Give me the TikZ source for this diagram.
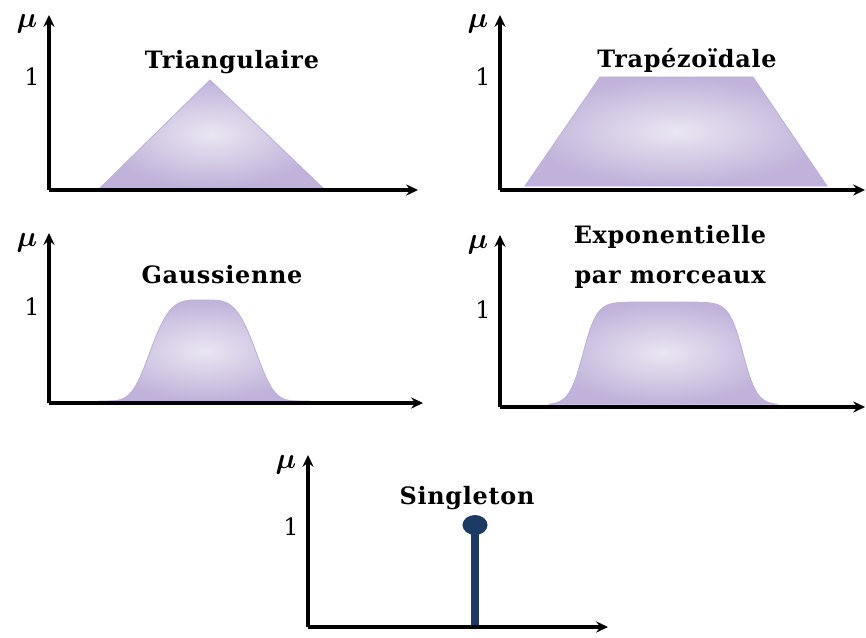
\documentclass[tikz,border=0pt]{standalone}
\usepackage{fontspec}
\setmainfont{DejaVu Serif}
\usetikzlibrary{arrows.meta,shapes.geometric}
\definecolor{lavclair}{RGB}{234,230,242}
\definecolor{lavfonce}{RGB}{192,178,218}
\definecolor{lavbord}{RGB}{190,176,216}
\definecolor{marine}{RGB}{28,58,100}
\begin{document}
\begin{tikzpicture}[x=0.025cm, y=-0.025cm,
  >={Stealth[length=8.5pt,width=8pt,inset=3pt]},
  axe/.style={line width=2.4pt, ->},
  forme/.style={draw=lavbord, line width=0.6pt, inner color=lavclair, outer color=lavfonce},
  titre/.style={font=\fontsize{17}{20}\selectfont\bfseries\addfontfeature{LetterSpace=3}},
  un/.style={font=\fontsize{17}{19}\selectfont},
  mu/.style={font=\fontsize{21}{22}\selectfont\boldmath, anchor=base, inner sep=1pt},
  pic/.style={ellipse, fill=marine, minimum width=17.8pt, minimum height=14.2pt, inner sep=0pt},
  tige/.style={marine, line width=5.7pt}]
  \useasboundingbox (0,0) rectangle (866,637);
  % formes d'appartenance
  \shade[forme] (100,188) -- (210,80) -- (323,188) -- cycle;
  \shade[forme] (525,186) -- (600,77) -- (753,77) -- (827,186) -- cycle;
  \shade[forme] plot[domain=98:310, samples=90, smooth] (\x, {401-101*exp(-(abs(\x-203)/57.5)^4)}) -- cycle;
  \shade[forme] plot[domain=548:778, samples=120, smooth] (\x, {405-103/(1+exp((abs(\x-663)-80)/7))}) -- cycle;
  % singleton
  \coordinate (pied) at (475,627);
  \coordinate (c5) at (475,525);
  \draw[tige] (pied) -- (c5);
  \node[pic] (pic) at (c5) {};
  % axes, mu et 1
  \foreach \i/\ox/\oy/\ty/\tx/\uy in {1/49/190/15/418/77, 2/500/190/15/865/77,
      3/49/403/233/423/307, 4/500/407/235/865/310, 5/308/627/455/608/527}{
    \coordinate (o\i) at (\ox,\oy);
    \coordinate (y\i) at (\ox,\ty);
    \coordinate (x\i) at (\tx,\oy);
    \draw[axe] (o\i) -- (y\i);
    \draw[axe] (o\i) -- (x\i);
    \node[mu] (mu\i) at (\ox-22,\ty+13) {$\mu$};
    \node[un] (un\i) at (\ox-17,\uy) {1};
  }
  % titres
  \node[titre] (t1) at (232,62) {Triangulaire};
  \node[titre] (t2) at (687,60) {Trapézoïdale};
  \node[titre] (t3) at (222,275) {Gaussienne};
  \node[titre, align=center] (t4) at (670,257) {Exponentielle\\[8pt]par morceaux};
  \node[titre] (t5) at (467,498) {Singleton};
\end{tikzpicture}
\end{document}
